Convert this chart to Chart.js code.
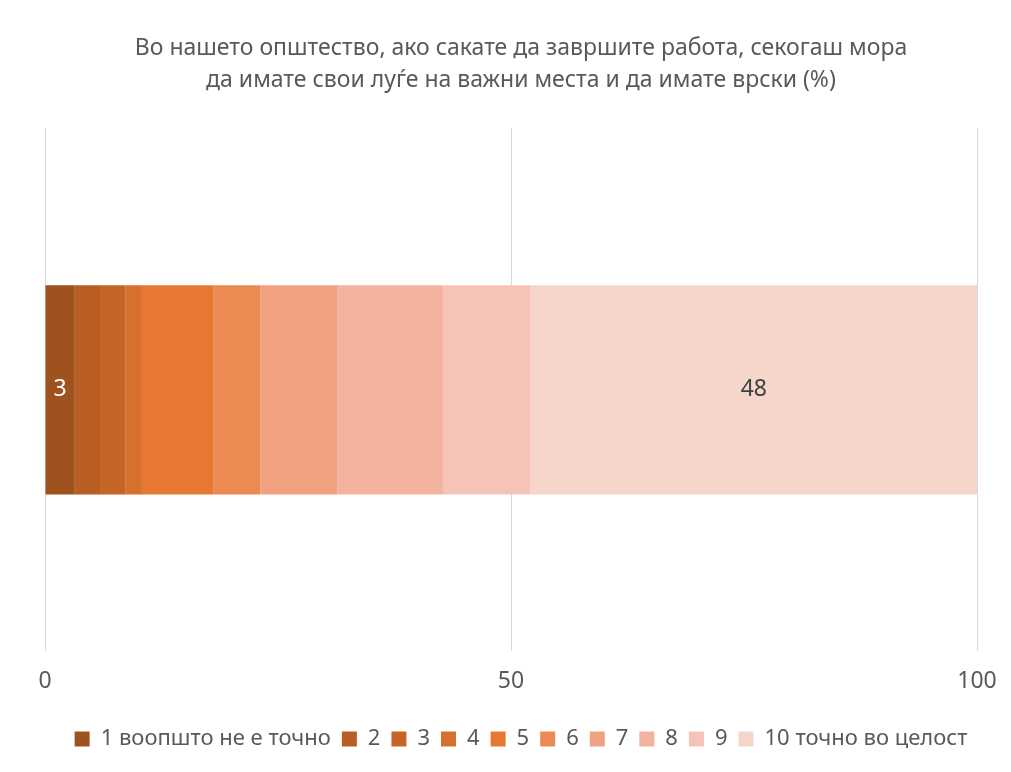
<!DOCTYPE html>
<html>
<head>
<meta charset="utf-8">
<script src="https://cdn.jsdelivr.net/npm/chart.js@4/dist/chart.umd.min.js"></script>
<style>
html,body{margin:0;padding:0;background:#fff;}
#wrap{width:1011px;height:772px;position:relative;}
</style>
</head>
<body>
<div id="wrap"><canvas id="c" width="1011" height="772"></canvas></div>
<script>
const titleLines = ["Во нашето општество, ако сакате да завршите работа, секогаш мора", "да имате свои луѓе на важни места и да имате врски (%)"];
const categories = [""];
const seriesNames = ["1 воопшто не е точно", "2", "3", "4", "5", "6", "7", "8", "9", "10 точно во целост"];
const seriesValues = [3.2, 2.7, 2.7, 1.7, 7.8, 5.0, 8.3, 11.3, 9.4, 47.9];
const shownLabels = [true, false, false, false, false, false, false, false, false, true];
const seriesColors = ["#9E531E", "#B85D24", "#C56628", "#D5712D", "#E67831", "#EC8A54", "#F0A17F", "#F3B39E", "#F5C4B6", "#F6D5CB"];
const labelColors = ["#FFFFFF", "#404040", "#404040", "#404040", "#404040", "#404040", "#404040", "#404040", "#404040", "#404040"];
const xTicks = [0, 50, 100];

const FONT = "'Noto Sans', 'Open Sans', sans-serif";

const labelPlugin = {
  id: 'segLabels',
  afterDatasetsDraw(chart) {
    const ctx = chart.ctx;
    ctx.save();
    ctx.font = "23px " + FONT;
    ctx.textAlign = 'center';
    ctx.textBaseline = 'middle';
    chart.data.datasets.forEach((ds, i) => {
      if (!shownLabels[i]) return;
      const meta = chart.getDatasetMeta(i);
      meta.data.forEach((bar, j) => {
        const v = ds.data[j];
        const cx = (bar.x + bar.base) / 2;
        ctx.fillStyle = labelColors[i];
        ctx.fillText(String(Math.round(v)), cx, bar.y);
      });
    });
    ctx.restore();
  }
};

new Chart(document.getElementById('c'), {
  type: 'bar',
  data: {
    labels: categories,
    datasets: seriesNames.map((n, i) => ({
      label: n,
      data: [seriesValues[i]],
      backgroundColor: seriesColors[i],
      borderWidth: 0,
      barPercentage: 1,
      categoryPercentage: 0.4
    }))
  },
  options: {
    indexAxis: 'y',
    responsive: false,
    animation: false,
    layout: { padding: { left: 45, right: 14, top: 10, bottom: 12 } },
    scales: {
      x: {
        stacked: true,
        min: 0, max: 100,
        afterBuildTicks(axis) { axis.ticks = xTicks.map(v => ({ value: v })); },
        afterFit(axis) { axis.height += 6; axis.paddingLeft = 0; axis.paddingRight = 34; },
        grid: { color: '#D9D9D9', lineWidth: 1, drawTicks: false },
        border: { display: false },
        ticks: { color: '#595959', font: { size: 23, family: FONT }, padding: 16 }
      },
      y: {
        display: false,
        stacked: true
      }
    },
    plugins: {
      title: {
        display: true,
        text: titleLines,
        color: '#595959',
        font: { size: 23, family: FONT, weight: 'normal', lineHeight: 1.4 },
        padding: { top: 22, bottom: 32 }
      },
      legend: {
        position: 'bottom',
        labels: {
          color: '#595959',
          font: { size: 22, family: FONT },
          boxWidth: 15, boxHeight: 15,
          padding: 11
        }
      },
      tooltip: { enabled: false }
    }
  },
  plugins: [labelPlugin]
});
</script>
</body>
</html>
